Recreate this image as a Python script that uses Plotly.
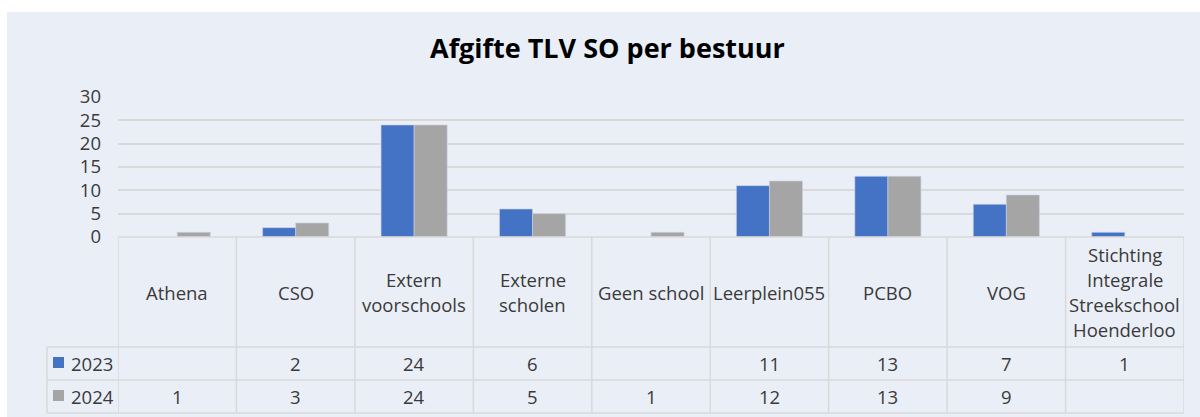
import plotly.graph_objects as go

# ---- data ----
categories = ["Athena", "CSO", "Extern voorschools", "Externe scholen", "Geen school",
              "Leerplein055", "PCBO", "VOG", "Stichting Integrale Streekschool Hoenderloo"]
cat_labels = ["Athena", "CSO", "Extern\nvoorschools", "Externe\nscholen", "Geen school",
              "Leerplein055", "PCBO", "VOG", "Stichting\nIntegrale\nStreekschool\nHoenderloo"]
series_names = ["2023", "2024"]
vals_2023 = [None, 2, 24, 6, None, 11, 13, 7, 1]
vals_2024 = [1, 3, 24, 5, 1, 12, 13, 9, None]
y_ticks = [0, 5, 10, 15, 20, 25, 30]
title_text = "Afgifte TLV SO per bestuur"

# ---- style ----
W, H = 1200, 417
BLUE = "#4472C4"
GRAY = "#A5A5A5"
BG = "#EAEEF7"
GRID = "#D9D9D9"
TXT = "#3A3A3A"
FONT = "Open Sans"
FS = 18.5

def px(x):
    return x / W

def py(y):
    return 1 - y / H

fig = go.Figure()
fig.add_trace(go.Bar(x=categories, y=vals_2023, name=series_names[0], marker_color=BLUE,
                     marker_line=dict(color="#C9D1E3", width=0.6)))
fig.add_trace(go.Bar(x=categories, y=vals_2024, name=series_names[1], marker_color=GRAY,
                     marker_line=dict(color="#C9D1E3", width=0.6)))

shapes = []
# chart area background
shapes.append(dict(type="rect", xref="paper", yref="paper", x0=px(7), x1=1, y0=0, y1=py(12),
                   fillcolor=BG, line_width=0, layer="below"))

line = dict(color=GRID, width=1.5)
# table vertical lines at category boundaries
for i in range(len(categories) + 1):
    shapes.append(dict(type="line", xref="x", yref="paper", x0=i - 0.5, x1=i - 0.5,
                       y0=py(237), y1=py(413), line=line))
# legend column left line
shapes.append(dict(type="line", xref="paper", yref="paper", x0=px(47), x1=px(47),
                   y0=py(347), y1=py(413), line=line))
# horizontal lines
shapes.append(dict(type="line", xref="paper", yref="paper", x0=px(118), x1=px(1184),
                   y0=py(237), y1=py(237), line=line))
for yy in (347, 380, 413):
    shapes.append(dict(type="line", xref="paper", yref="paper", x0=px(47), x1=px(1184),
                       y0=py(yy), y1=py(yy), line=line))

# legend keys
for key_y, col in ((363, BLUE), (396, GRAY)):
    shapes.append(dict(type="rect", xref="paper", yref="paper", x0=px(53), x1=px(64),
                       y0=py(key_y - 6), y1=py(key_y + 5), fillcolor=col, line_width=0))

annotations = []
annotations.append(dict(text=title_text, xref="paper", yref="paper", x=px(607), y=py(48),
                        showarrow=False, xanchor="center", yanchor="middle",
                        font=dict(family=FONT, size=27, color="#000000", weight="bold")))

# category labels
pitch = 25.3
for cat, lab in zip(categories, cat_labels):
    lines = lab.split("\n")
    n = len(lines)
    for i, ln in enumerate(lines):
        yy = 292 + (i - (n - 1) / 2) * pitch
        annotations.append(dict(text=ln, xref="x", yref="paper", x=cat, y=py(yy),
                                showarrow=False, xanchor="center", yanchor="middle",
                                font=dict(family=FONT, size=FS, color=TXT)))

# values in table
for row_y, vals in ((363, vals_2023), (396, vals_2024)):
    for cat, v in zip(categories, vals):
        if v is None:
            continue
        annotations.append(dict(text=str(v), xref="x", yref="paper", x=cat, y=py(row_y),
                                showarrow=False, xanchor="center", yanchor="middle",
                                font=dict(family=FONT, size=FS, color=TXT)))

# legend labels in table
for row_y, name in ((363, series_names[0]), (396, series_names[1])):
    annotations.append(dict(text=name, xref="paper", yref="paper", x=px(69), y=py(row_y),
                            showarrow=False, xanchor="left", yanchor="middle",
                            font=dict(family=FONT, size=FS, color=TXT)))

fig.update_layout(
    width=W, height=H,
    margin=dict(l=0, r=0, t=0, b=0, pad=0, autoexpand=False),
    paper_bgcolor="white",
    plot_bgcolor="rgba(0,0,0,0)",
    showlegend=False,
    barmode="group",
    bargap=0.442,
    bargroupgap=0,
    shapes=shapes,
    annotations=annotations,
    font=dict(family=FONT, color=TXT),
    xaxis=dict(domain=[px(118), px(1184)], range=[-0.5, len(categories) - 0.5],
               showticklabels=False, showgrid=False, zeroline=False, showline=False,
               fixedrange=True, automargin=False),
    yaxis=dict(domain=[py(237), py(97)], range=[0, 30], tickvals=y_ticks,
               showgrid=True, gridcolor=GRID, gridwidth=1.5, zeroline=False, showline=False,
               ticks="", ticklabelstandoff=16, automargin=False,
               tickfont=dict(family=FONT, size=FS, color=TXT), fixedrange=True),
)

fig.write_html("out.html", config={"displayModeBar": False},
               post_script="document.body.style.margin='0';document.body.style.overflow='hidden';")
